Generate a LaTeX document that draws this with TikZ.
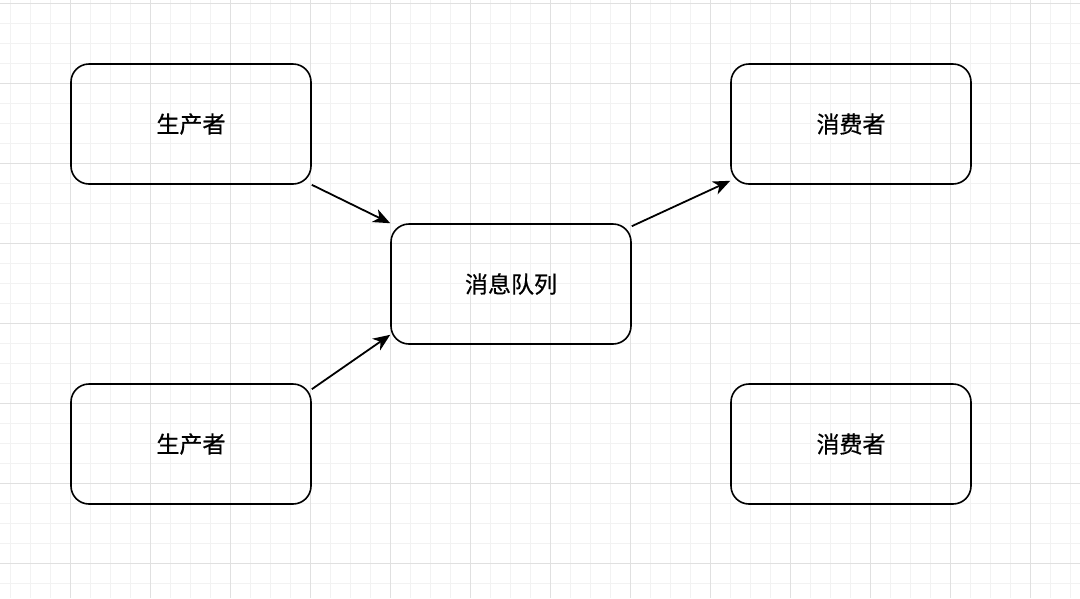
\documentclass[tikz,border=0pt]{standalone}
\usepackage{fontspec}
\newfontfamily\cjk{Noto Sans CJK SC}[FakeBold=0.6]
\usetikzlibrary{arrows.meta}
\usetikzlibrary{positioning}
\definecolor{gridminor}{HTML}{F2F2F2}
\definecolor{gridmajor}{HTML}{E0E0E0}

\begin{document}
\begin{tikzpicture}[x=1pt, y=-1pt,
    box/.style={draw, line width=1.6pt, rounded corners=18pt,
      minimum width=240pt, minimum height=120pt, inner sep=0pt,
      font=\cjk\fontsize{23}{28}\selectfont},
    link/.style={line width=1.8pt, -{Stealth[length=17pt, width=14pt, inset=5pt]}}]
    \useasboundingbox (0,0) rectangle (1080,598);
    \fill[white] (0,0) rectangle (1080,598);

    % grid
    \foreach \x in {10,30,...,1070}
      \draw[gridminor, line width=1pt] (\x,0) -- (\x,598);
    \foreach \y in {3,23,...,598}
      \draw[gridminor, line width=1pt] (0,\y) -- (1080,\y);
    \foreach \x in {70,150,...,1070}
      \draw[gridmajor, line width=1pt] (\x,0) -- (\x,598);
    \foreach \y in {3,83,...,598}
      \draw[gridmajor, line width=1pt] (0,\y) -- (1080,\y);

    \node [box] (p1) at (191,124) {生产者};
    \node [box] (p2) at (191,444) {生产者};
    \node [box] (mq) at (511,284) {消息队列};
    \node [box] (c1) at (851,124) {消费者};
    \node [box] (c2) at (851,444) {消费者};

    \draw [link] (p1.south east) -- (mq.north west);
    \draw [link] ([yshift=-6pt]p2.north east) -- ([yshift=10pt]mq.south west);
    \draw [link] ([yshift=-3pt]mq.north east) -- ([yshift=4pt]c1.south west);
  \end{tikzpicture}
\end{document}
